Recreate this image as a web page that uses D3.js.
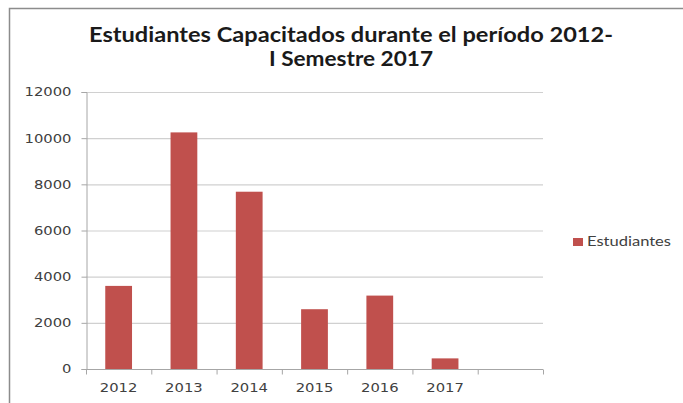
<!DOCTYPE html>
<html><head><meta charset="utf-8">
<script src="https://cdn.jsdelivr.net/npm/d3@7"></script>
<style>body{margin:0;background:#fff}svg{display:block}</style>
</head><body>
<svg id="c" width="683" height="403"></svg>
<script>
const categories = ["2012","2013","2014","2015","2016","2017",""];
const values = [3600, 10250, 7680, 2590, 3180, 460, null];
const yTicks = [0,2000,4000,6000,8000,10000,12000];
const seriesName = "Estudiantes";
const titleLines = ["Estudiantes Capacitados durante el período 2012-","I Semestre 2017"];

const svg = d3.select("#c");
const m = {left:86, right:543, top:92, bottom:369};

// outer frame
svg.append("rect").attr("x",9.5).attr("y",8.5).attr("width",690).attr("height",420)
  .attr("fill","#fff").attr("stroke","#8c8c8c").attr("stroke-width",1.5);

const x = d3.scaleBand().domain(categories.map((c,i)=>i)).range([m.left,m.right]).paddingInner(0.59).paddingOuter(0.295);
const slot = d3.scaleBand().domain(categories.map((c,i)=>i)).range([m.left,m.right]);
const y = d3.scaleLinear().domain([0,12000]).range([m.bottom,m.top]);

const digitW = 9.4;

// grid
svg.append("g").selectAll("line").data(yTicks.filter(t=>t>0)).join("line")
  .attr("x1",m.left).attr("x2",m.right).attr("y1",d=>y(d)+0.5).attr("y2",d=>y(d)+0.5)
  .attr("stroke","#d0d0d0").attr("stroke-width",1.2);

// y axis
const ya = svg.append("g").attr("transform",`translate(${m.left+0.5},0)`)
  .call(d3.axisLeft(y).tickValues(yTicks).tickSize(5).tickPadding(10).tickFormat(d3.format("d")));
ya.select(".domain").attr("stroke","#a6a6a6");
ya.selectAll(".tick line").attr("stroke","#a6a6a6");
ya.selectAll("text").attr("font-family","DejaVu Sans").attr("font-size","12px").attr("fill","#404040")
  .attr("textLength",d=>String(d).length*digitW).attr("lengthAdjust","spacingAndGlyphs");

// bars
svg.append("g").selectAll("rect").data(values.map((v,i)=>({v,i})).filter(d=>d.v!=null)).join("rect")
  .attr("x",d=>x(d.i)).attr("width",x.bandwidth())
  .attr("y",d=>y(d.v)).attr("height",d=>y(0)-y(d.v))
  .attr("fill","#C0504D");

// x axis
const xa = svg.append("g").attr("transform",`translate(0,${m.bottom+0.5})`);
xa.append("line").attr("x1",m.left).attr("x2",m.right).attr("stroke","#a6a6a6");
const bounds = d3.range(categories.length+1).map(i=> i<categories.length? slot(i): m.right);
xa.selectAll("line.t").data(bounds).join("line").attr("class","t")
  .attr("x1",d=>d+0.5).attr("x2",d=>d+0.5).attr("y1",0).attr("y2",5).attr("stroke","#a6a6a6");
xa.selectAll("text").data(categories.filter(c=>c)).join("text")
  .attr("x",(d,i)=>slot(i)+slot.bandwidth()/2).attr("y",22)
  .attr("text-anchor","middle").attr("font-family","DejaVu Sans").attr("font-size","12px").attr("fill","#404040")
  .attr("textLength",d=>d.length*digitW).attr("lengthAdjust","spacingAndGlyphs")
  .text(d=>d);

// title
const titleW = [524,164];
svg.append("g").selectAll("text").data(titleLines).join("text")
  .attr("x",351).attr("y",(d,i)=>42+i*24).attr("text-anchor","middle")
  .attr("font-family","Lato").attr("font-weight","bold").attr("font-size","20px").attr("fill","#1a1a1a")
  .attr("textLength",(d,i)=>titleW[i]).attr("lengthAdjust","spacingAndGlyphs")
  .text(d=>d);

// legend
const lg = svg.append("g").attr("transform","translate(573,238)");
lg.append("rect").attr("width",10).attr("height",8).attr("fill","#C0504D");
lg.append("text").attr("x",14).attr("y",8).attr("font-family","Lato").attr("font-size","14px").attr("fill","#404040")
  .attr("textLength",84).attr("lengthAdjust","spacingAndGlyphs").text(seriesName);
</script>
</body></html>
